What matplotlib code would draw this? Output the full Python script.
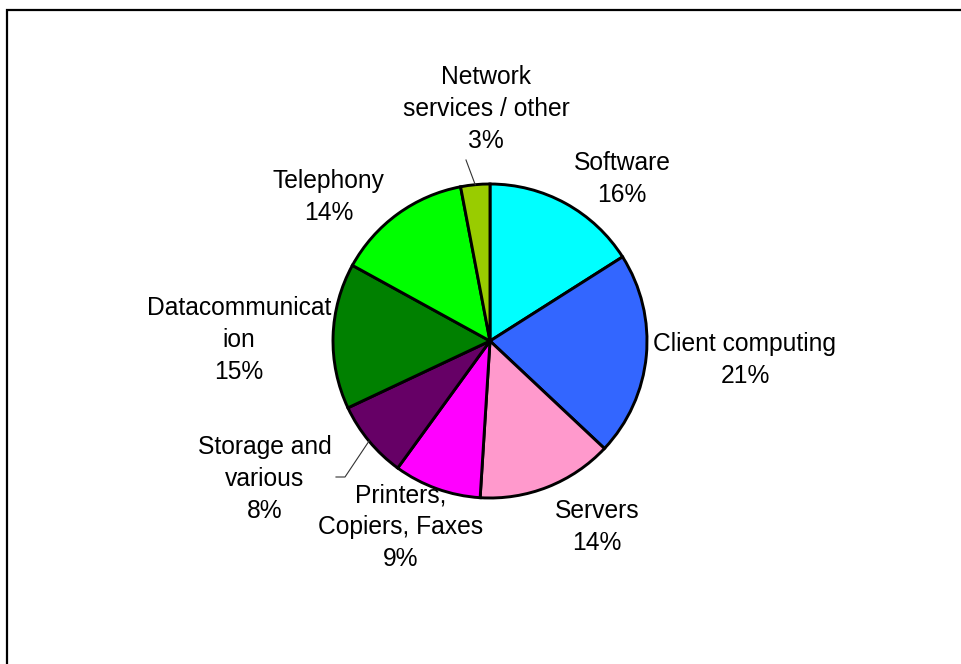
import numpy as np
import matplotlib.pyplot as plt
from matplotlib.patches import Rectangle

# IT spend split by segment
categories = ['Software', 'Client computing', 'Servers', 'Printers,\nCopiers, Faxes',
              'Storage and\nvarious', 'Datacommunicat\nion', 'Telephony',
              'Network\nservices / other']
shares = [16, 21, 14, 9, 8, 15, 14, 3]
colors = ['#00FFFF', '#3366FF', '#FF99CC', '#FF00FF',
          '#660066', '#008000', '#00FF00', '#99CC00']

W, H = 962, 664
# label centres in pixel coords (x, y from top)
label_pos = [(622, 179), (745, 360), (597, 527), (401, 527),
             (265, 479), (239, 340), (329, 197), (486, 109)]
# slices whose label hangs off a leader line: index -> elbow points
leaders = {7: [(466, 160)], 4: [(336, 477), (345, 477)]}

cx, cy, r = 490, 341, 157

plt.rcParams['font.family'] = ['Liberation Sans', 'DejaVu Sans']
fig = plt.figure(figsize=(W / 100, H / 100), dpi=100)
ax = fig.add_axes([0, 0, 1, 1])

wedges, _ = ax.pie(shares, colors=colors, startangle=90, counterclock=False,
                   center=(cx, H - cy), radius=r,
                   wedgeprops=dict(edgecolor='black', linewidth=2.1))

for i, (name, v) in enumerate(zip(categories, shares)):
    x, y = label_pos[i]
    ax.text(x, H - y, f'{name}\n{v}%', ha='center', va='center',
            fontsize=17.7, linespacing=1.42, multialignment='center')

for i, pts in leaders.items():
    w = wedges[i]
    mid = np.deg2rad((w.theta1 + w.theta2) / 2)
    ex, ey = cx + r * np.cos(mid), (H - cy) + r * np.sin(mid)
    xs = [p[0] for p in pts] + [ex]
    ys = [H - p[1] for p in pts] + [ey]
    ax.plot(xs, ys, color='#333333', lw=0.8)

# outer chart border (only left and top edges fall inside the image)
ax.add_patch(Rectangle((7, -20), 1000, H - 10 + 20, fill=False,
                       edgecolor='black', lw=1.6))

ax.set_xlim(0, W)
ax.set_ylim(0, H)
ax.set_aspect('equal')
ax.axis('off')

fig.savefig('out.png', dpi=100)
